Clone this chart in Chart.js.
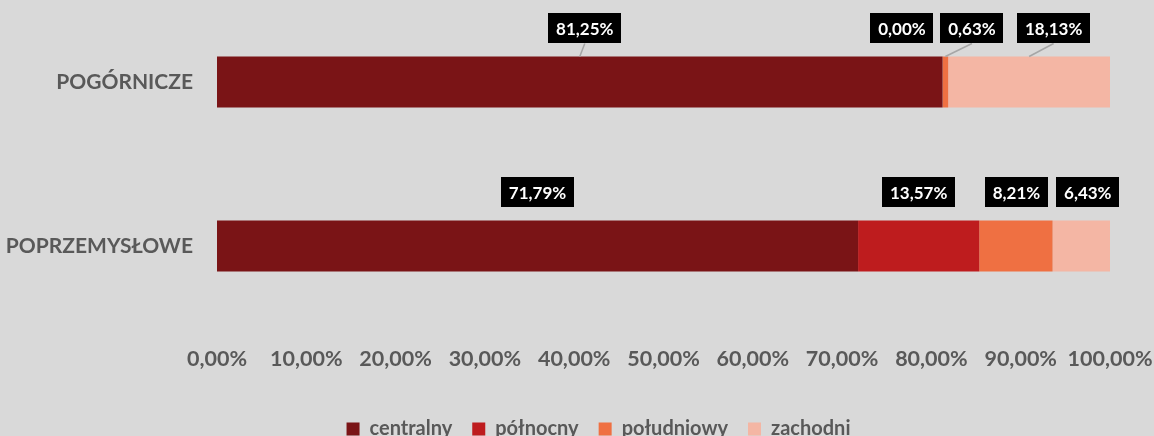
<!DOCTYPE html>
<html>
<head>
<meta charset="utf-8">
<script src="https://cdn.jsdelivr.net/npm/chart.js@4/dist/chart.umd.min.js"></script>
<style>
  html, body { margin: 0; padding: 0; background: #d9d9d9; }
  #wrap { width: 1154px; height: 436px; position: relative; }
</style>
</head>
<body>
<div id="wrap"><canvas id="c" width="1154" height="436"></canvas></div>
<script>
const categories = ['POGÓRNICZE', 'POPRZEMYSŁOWE'];
const seriesNames = ['centralny', 'północny', 'południowy', 'zachodni'];
const centralny = [81.25, 71.79];
const polnocny = [0.00, 13.57];
const poludniowy = [0.63, 8.21];
const zachodni = [18.13, 6.43];
const xTicks = [0, 10, 20, 30, 40, 50, 60, 70, 80, 90, 100];

const colors = ['#7a1416', '#be1c1e', '#ef7042', '#f4b6a4'];
const FONT = 'Lato, "Open Sans", sans-serif';
const fmt = v => v.toFixed(2).replace('.', ',') + '%';

const boxLabels = {
  id: 'boxLabels',
  afterDatasetsDraw(chart, args, opts) {
    const ctx = chart.ctx;
    ctx.save();
    ctx.font = 'bold ' + opts.fontSize + 'px ' + FONT;
    ctx.textAlign = 'center';
    ctx.textBaseline = 'middle';
    chart.data.datasets.forEach((ds, i) => {
      const meta = chart.getDatasetMeta(i);
      meta.data.forEach((bar, j) => {
        const p = bar.getProps(['x', 'y', 'base', 'height'], true);
        const cx = (p.x + p.base) / 2;
        const top = p.y - p.height / 2;
        const dx = opts.offsets[i][j];
        const text = fmt(ds.data[j]);
        const tw = ctx.measureText(text).width;
        const bw = tw + opts.padX * 2, bh = opts.boxH;
        const bx = cx + dx;
        const bBottom = top - opts.gap;
        if (opts.leaders[i][j]) {
          ctx.strokeStyle = '#a6a6a6';
          ctx.lineWidth = 1.5;
          ctx.beginPath();
          ctx.moveTo(cx, top);
          ctx.lineTo(bx, bBottom);
          ctx.stroke();
        }
        ctx.fillStyle = '#000000';
        ctx.fillRect(Math.round(bx - bw / 2), Math.round(bBottom - bh), Math.round(bw), bh);
        ctx.fillStyle = '#ffffff';
        ctx.fillText(text, bx, bBottom - bh / 2 + 1);
      });
    });
    ctx.restore();
  }
};

const legendShift = {
  id: 'legendShift',
  afterLayout(chart, args, opts) {
    const lg = chart.legend;
    if (!lg) return;
    const d = opts.center - (lg.left + lg.right) / 2;
    lg.left += d; lg.right += d;
    lg.top += opts.dy; lg.bottom += opts.dy;
  }
};

const bgPlugin = {
  id: 'bg',
  beforeDraw(chart) {
    const ctx = chart.ctx;
    ctx.save();
    ctx.fillStyle = '#d9d9d9';
    ctx.fillRect(0, 0, chart.width, chart.height);
    ctx.restore();
  }
};

new Chart(document.getElementById('c'), {
  type: 'bar',
  data: {
    labels: categories,
    datasets: [
      { label: seriesNames[0], data: centralny, backgroundColor: colors[0] },
      { label: seriesNames[1], data: polnocny, backgroundColor: colors[1] },
      { label: seriesNames[2], data: poludniowy, backgroundColor: colors[2] },
      { label: seriesNames[3], data: zachodni, backgroundColor: colors[3] }
    ]
  },
  options: {
    indexAxis: 'y',
    responsive: false,
    animation: false,
    devicePixelRatio: 1,
    layout: { padding: { left: 2, right: 2, top: 0, bottom: 2 } },
    datasets: { bar: { categoryPercentage: 1, barPercentage: 0.311, borderWidth: 0 } },
    scales: {
      x: {
        stacked: true, min: 0, max: 100,
        afterBuildTicks: axis => { axis.ticks = xTicks.map(v => ({ value: v })); },
        afterFit: s => { s.height = 56; s.paddingLeft = 30; s.paddingRight = 44; },
        grid: { display: false, drawTicks: false },
        border: { display: false },
        ticks: {
          padding: 18, color: '#595959',
          font: { family: FONT, size: 21.5, weight: 'bold' },
          maxRotation: 0, autoSkip: false,
          callback: v => fmt(v)
        }
      },
      y: {
        stacked: true,
        afterFit: s => { s.width = 215; s.paddingTop = 0; s.paddingBottom = 0; },
        grid: { display: false, drawTicks: false },
        border: { display: false },
        ticks: {
          padding: 24, color: '#595959',
          font: { family: FONT, size: 21, weight: 'bold' }
        }
      }
    },
    plugins: {
      tooltip: { enabled: false },
      legend: {
        position: 'bottom',
        labels: {
          boxWidth: 13, boxHeight: 13, padding: 20,
          color: '#595959',
          font: { family: FONT, size: 20, weight: 'bold' }
        }
      },
      legendShift: { center: 598.5, dy: 15 },
      boxLabels: {
        fontSize: 17, padX: 8, boxH: 30, gap: 13,
        offsets: [[5, 0], [-40.6, 0], [26.6, 0.5], [24.5, 6.5]],
        leaders: [[true, false], [false, false], [true, false], [true, false]]
      }
    }
  },
  plugins: [bgPlugin, boxLabels, legendShift]
});
</script>
</body>
</html>
